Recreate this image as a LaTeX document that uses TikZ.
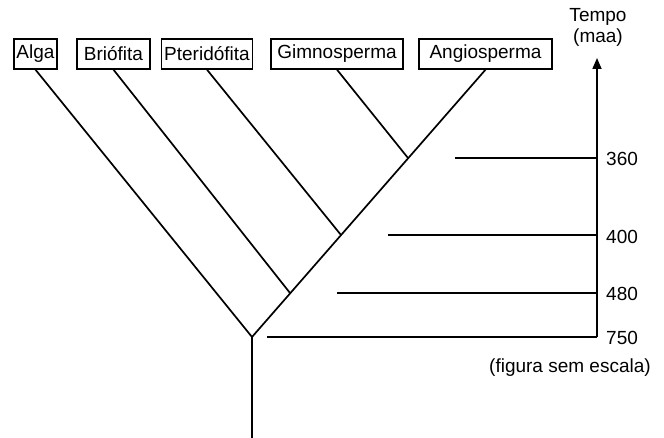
\documentclass[tikz,border=0pt]{standalone}
\usepackage{fontspec}
\setmainfont{Liberation Sans}
\usetikzlibrary{arrows.meta,positioning,calc}

\begin{document}
\begin{tikzpicture}[
  x=1pt, y=-1pt,
  every node/.style={font=\fontsize{19}{22}\selectfont},
  taxon/.style={draw,line width=1.4pt,minimum height=30pt,inner xsep=2pt,inner ysep=0pt},
  branch/.style={line width=1.7pt},
  lbl/.style={anchor=west,inner sep=0pt}
]
  \useasboundingbox (0,0) rectangle (664,438);

  % grupos
  \node[taxon,minimum width=43pt]  (alga)   at (35.5,54)  {Alga};
  \node[taxon,minimum width=73pt]  (brio)   at (113.5,54) {Briófita};
  \node[taxon,minimum width=91pt]  (pteri)  at (207,54)   {Pteridófita};
  \node[taxon,minimum width=132pt] (gimno)  at (337,54)   {Gimnosperma};
  \node[taxon,minimum width=133pt] (angio)  at (485.5,54) {Angiosperma};

  % ramos
  \coordinate (root) at (252,337);
  \coordinate (n480) at (290,293);
  \coordinate (n400) at (341,235);
  \coordinate (n360) at (408,158);
  \coordinate (base) at (252,438);

  \draw[branch] (base) -- (root);
  \draw[branch] (alga.south) -- (root) -- (angio.south);
  \draw[branch] (brio.south) -- (n480);
  \draw[branch] (pteri.south) -- (n400);
  \draw[branch] (gimno.south) -- (n360);

  % eixo do tempo
  \coordinate (axbot) at (597,337);
  \coordinate (axtop) at (597,58);
  \draw[branch,-{Triangle[width=9pt,length=11pt]}] (axbot) -- (axtop);
  \node[inner sep=0pt] (tempo) at (598,17) {Tempo};
  \node[inner sep=0pt] (maa)   at (598,38) {(maa)};

  \coordinate (s360) at (455,158);
  \coordinate (s400) at (388,235);
  \coordinate (s480) at (337,293);
  \coordinate (s750) at (267,337);
  \draw[branch] (s360) -- (s360 -| axbot);
  \draw[branch] (s400) -- (s400 -| axbot);
  \draw[branch] (s480) -- (s480 -| axbot);
  \draw[branch] (s750) -- (axbot);

  \node[lbl] (l360) at (606,159) {360};
  \node[lbl] (l400) at (606,237) {400};
  \node[lbl] (l480) at (606,294) {480};
  \node[lbl] (l750) at (606,338) {750};
  \node[lbl] (nota) at (489,368) {(figura sem escala)};
\end{tikzpicture}
\end{document}
